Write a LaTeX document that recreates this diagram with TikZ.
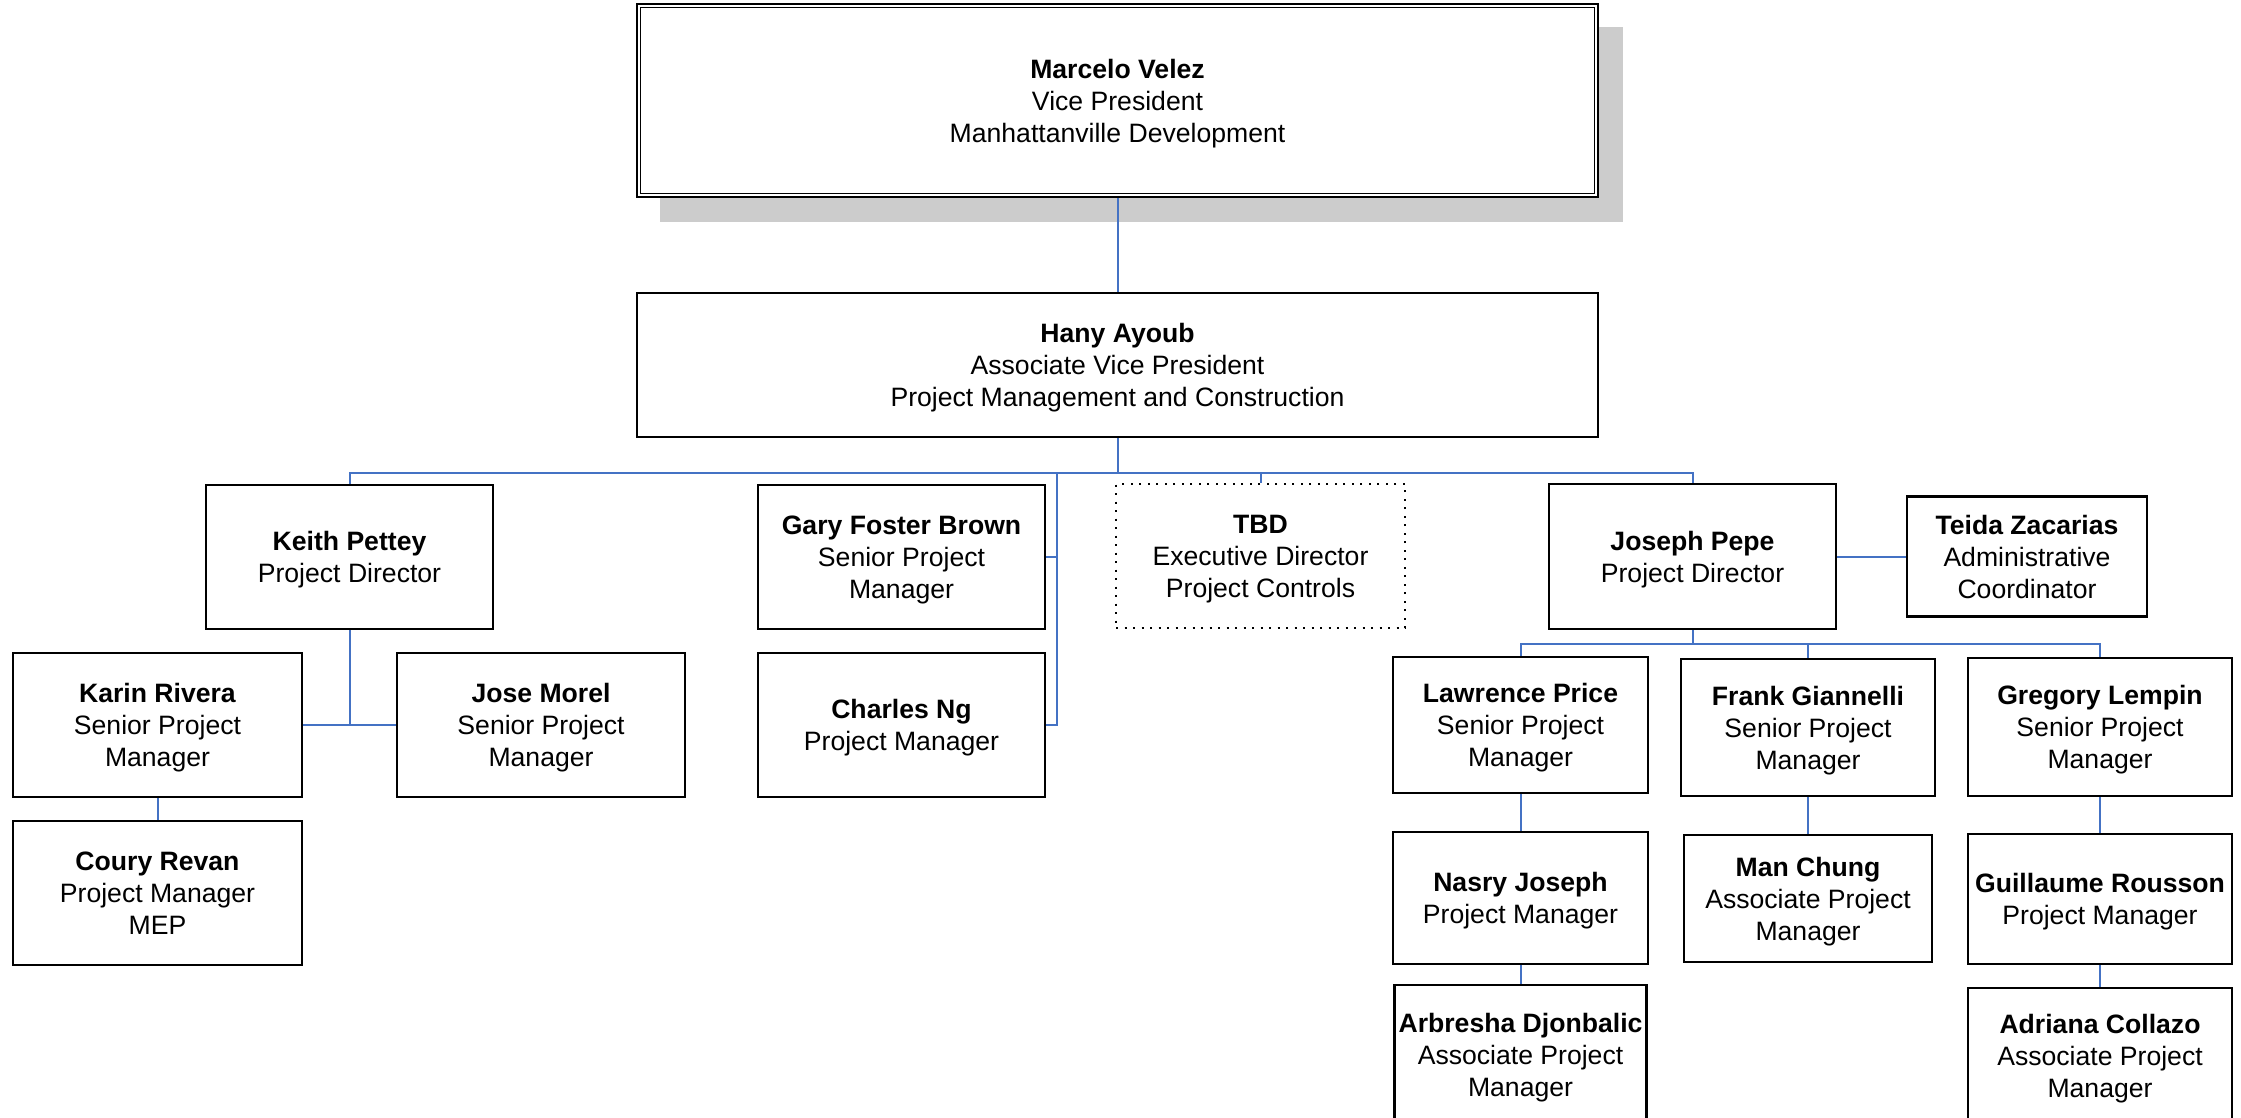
\documentclass[tikz,border=0pt]{standalone}
\usepackage{fontspec}
\setmainfont{Liberation Sans}
\usetikzlibrary{backgrounds}
\definecolor{connblue}{RGB}{68,114,196}
\definecolor{shadowgray}{RGB}{204,204,204}
\begin{document}
\begin{tikzpicture}[x=1pt,y=-1pt,
  box/.style={draw=black, line width=2.2pt, fill=white, align=center, inner sep=0pt,
    text depth=0pt, font=\fontsize{26.6}{32}\selectfont},
  dotbox/.style={box, line width=2pt, dash pattern=on 2pt off 6.5pt},
  conn/.style={draw=connblue, line width=2pt},
  shadowbox/.style={fill=shadowgray, draw=none}]
\useasboundingbox (0,0) rectangle (2241,1117);
\clip (0,0) rectangle (2241,1117);

% top box
\node[box, minimum width=961pt, minimum height=193pt] (marcelo) at (1117.5,100.5)
  {\textbf{Marcelo Velez}\\Vice President\\Manhattanville Development};
\draw[line width=1.5pt] ([shift={(4.5,4.5)}]marcelo.north west) rectangle ([shift={(-4.5,-4.5)}]marcelo.south east);

\node[box, minimum width=961pt, minimum height=144pt] (hany) at (1117.5,365)
  {\textbf{Hany Ayoub}\\Associate Vice President\\Project Management and Construction};

\node[box, minimum width=287pt, minimum height=144pt] (keith) at (349.5,557)
  {\textbf{Keith Pettey}\\Project Director};
\node[box, minimum width=289pt, minimum height=144pt] (karin) at (157.5,725)
  {\textbf{Karin Rivera}\\Senior Project\\Manager};
\node[box, minimum width=288pt, minimum height=144pt] (jose) at (541,725)
  {\textbf{Jose Morel}\\Senior Project\\Manager};
\node[box, minimum width=289pt, minimum height=144pt] (coury) at (157.5,893)
  {\textbf{Coury Revan}\\Project Manager\\MEP};

\node[box, minimum width=287pt, minimum height=144pt] (gary) at (901.5,557)
  {\textbf{Gary Foster Brown}\\Senior Project\\Manager};
\node[box, minimum width=287pt, minimum height=144pt] (charles) at (901.5,725)
  {\textbf{Charles Ng}\\Project Manager};

\node[dotbox, minimum width=289pt, minimum height=144pt] (tbd) at (1260.5,556)
  {\textbf{TBD}\\Executive Director\\Project Controls};

\node[box, minimum width=287pt, minimum height=145pt] (joseph) at (1692.5,556.5)
  {\textbf{Joseph Pepe}\\Project Director};
\node[box, minimum width=240pt, minimum height=120pt] (teida) at (2027,556.5)
  {\textbf{Teida Zacarias}\\Administrative\\Coordinator};

\node[box, minimum width=255pt, minimum height=136pt] (lawrence) at (1520.5,725)
  {\textbf{Lawrence Price}\\Senior Project\\Manager};
\node[box, minimum width=254pt, minimum height=137pt] (frank) at (1808,727.5)
  {\textbf{Frank Giannelli}\\Senior Project\\Manager};
\node[box, minimum width=264pt, minimum height=138pt] (gregory) at (2100,727)
  {\textbf{Gregory Lempin}\\Senior Project\\Manager};

\node[box, minimum width=255pt, minimum height=132pt] (nasry) at (1520.5,898)
  {\textbf{Nasry Joseph}\\Project Manager};
\node[box, minimum width=248pt, minimum height=127pt] (man) at (1808,898.5)
  {\textbf{Man Chung}\\Associate Project\\Manager};
\node[box, minimum width=264pt, minimum height=130pt] (guillaume) at (2100,899)
  {\textbf{Guillaume Rousson}\\Project Manager};

\node[box, minimum width=252pt, minimum height=140pt] (arbresha) at (1520.5,1055)
  {\textbf{Arbresha Djonbalic}\\Associate Project\\Manager};
\node[box, minimum width=264pt, minimum height=136pt] (adriana) at (2100,1056)
  {\textbf{Adriana Collazo}\\Associate Project\\Manager};

\begin{scope}[on background layer]
  \fill[shadowgray] (660,27) rectangle (1623,222);
  \coordinate (bus) at (1117.5,473);
  \coordinate (gc) at (1057,473);
  \coordinate (jbus) at (1692.5,644);
  \draw[conn] (marcelo.south) -- (hany.north);
  \draw[conn] (hany.south) -- (bus);
  \draw[conn] (keith.north) -- (keith.north |- bus) -- (joseph.north |- bus) -- (joseph.north);
  \draw[conn] (tbd.north) -- (tbd.north |- bus);
  \draw[conn] (gc) |- (charles.east);
  \draw[conn] (gary.east) -- (gary.east -| gc);
  \draw[conn] (keith.south) -- (keith.south |- karin.east);
  \draw[conn] (karin.east) -- (jose.west);
  \draw[conn] (karin.south) -- (coury.north);
  \draw[conn] (joseph.east) -- (teida.west);
  \draw[conn] (joseph.south) -- (jbus);
  \draw[conn] (lawrence.north) -- (lawrence.north |- jbus) -- (gregory.north |- jbus) -- (gregory.north);
  \draw[conn] (frank.north) -- (frank.north |- jbus);
  \draw[conn] (lawrence.south) -- (nasry.north);
  \draw[conn] (nasry.south) -- (arbresha.north);
  \draw[conn] (frank.south) -- (man.north);
  \draw[conn] (gregory.south) -- (guillaume.north);
  \draw[conn] (guillaume.south) -- (adriana.north);
\end{scope}
\end{tikzpicture}
\end{document}
